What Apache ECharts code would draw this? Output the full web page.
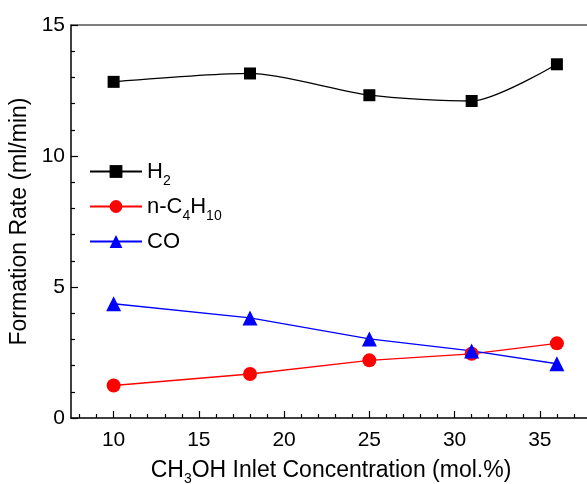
<!DOCTYPE html>
<html>
<head>
<meta charset="utf-8">
<script src="https://cdn.jsdelivr.net/npm/echarts@6/dist/echarts.min.js"></script>
<style>
  html, body { margin: 0; padding: 0; background: #fff; }
  #echarts { width: 587px; height: 484px; }
</style>
</head>
<body>
<div id="echarts"></div>
<script>
// data
var conc = [10, 18, 25, 31, 36];
var h2 = [12.83, 13.15, 12.32, 12.1, 13.5];
var butane = [1.24, 1.68, 2.2, 2.45, 2.85];
var co = [4.36, 3.82, 3.02, 2.56, 2.07];
var xLabels = [10, 15, 20, 25, 30, 35];
var xMinor = [8, 9, 11, 12, 13, 14, 16, 17, 18, 19, 21, 22, 23, 24, 26, 27, 28, 29, 31, 32, 33, 34, 36, 37];

function pairs(ys) {
  return conc.map(function (x, i) { return [x, ys[i]]; });
}

var font = 'Liberation Sans, Arial, sans-serif';
var legendRich = {
  t: { fontSize: 22, fontFamily: font, color: '#000', lineHeight: 33 },
  s: { fontSize: 14, fontFamily: font, color: '#000', lineHeight: 14, padding: [19, 0, 0, 0] }
};
var nameRich = {
  t: { fontSize: 23, fontFamily: font, color: '#000', lineHeight: 30 },
  s: { fontSize: 14, fontFamily: font, color: '#000', lineHeight: 14, padding: [16, 0, 0, 0] }
};

var myChart = echarts.init(document.getElementById('echarts'));

option = {
  backgroundColor: '#fff',
  animation: false,
  grid: { left: 71, top: 25, bottom: 66, right: -4, outerBoundsMode: 'none', containLabel: false },
  legend: {
    orient: 'vertical',
    left: 89,
    top: 155,
    padding: 0,
    itemWidth: 52,
    itemHeight: 16,
    itemGap: 2,
    data: ['H2', 'n-C4H10', 'CO'],
    formatter: function (n) {
      if (n === 'H2') return '{t|H}{s|2}';
      if (n === 'n-C4H10') return '{t|n-C}{s|4}{t|H}{s|10}';
      return '{t|CO}{s| }';
    },
    textStyle: { rich: legendRich }
  },
  xAxis: [
    {
      type: 'value',
      min: 7.5,
      max: 38,
      name: '{t|CH}{s|3}{t|OH Inlet Concentration (mol.%)}',
      nameLocation: 'middle',
      nameGap: 38,
      nameTextStyle: { rich: nameRich },
      axisLine: { lineStyle: { color: '#000', width: 1.5 } },
      axisTick: { inside: true, length: 7, customValues: xLabels, lineStyle: { color: '#000', width: 1.2 } },
      axisLabel: { customValues: xLabels, margin: 12, fontSize: 21, fontFamily: font, color: '#000' },
      splitLine: { show: false }
    },
    {
      type: 'value',
      min: 7.5,
      max: 38,
      position: 'bottom',
      axisLine: { show: false },
      axisTick: { inside: true, length: 4, customValues: xMinor, lineStyle: { color: '#000', width: 1.2 } },
      axisLabel: { show: false },
      splitLine: { show: false }
    },
    {
      type: 'value',
      min: 7.5,
      max: 38,
      position: 'top',
      axisLine: { lineStyle: { color: '#555', width: 1.5 } },
      axisTick: { show: false },
      axisLabel: { show: false },
      splitLine: { show: false }
    }
  ],
  yAxis: {
    type: 'value',
    min: 0,
    max: 15,
    interval: 5,
    name: 'Formation Rate (ml/min)',
    nameLocation: 'middle',
    nameGap: 38,
    nameTextStyle: { fontSize: 23, fontFamily: font, color: '#000' },
    axisLine: { show: true, lineStyle: { color: '#000', width: 1.5 } },
    axisTick: { inside: true, length: 7, lineStyle: { color: '#000', width: 1.2 } },
    minorTick: { show: true, splitNumber: 5, length: 4, lineStyle: { color: '#000', width: 1.2 } },
    axisLabel: { margin: 6, fontSize: 21, fontFamily: font, color: '#000' },
    splitLine: { show: false }
  },
  series: [
    {
      name: 'H2',
      type: 'line',
      smooth: 0.25,
      data: pairs(h2),
      symbol: 'rect',
      symbolSize: 12,
      itemStyle: { color: '#000' },
      lineStyle: { color: '#000', width: 1.3 }
    },
    {
      name: 'n-C4H10',
      type: 'line',
      data: pairs(butane),
      symbol: 'circle',
      symbolSize: 14,
      itemStyle: { color: '#ff0000' },
      lineStyle: { color: '#ff0000', width: 1.3 }
    },
    {
      name: 'CO',
      type: 'line',
      data: pairs(co),
      symbol: 'triangle',
      symbolSize: 15,
      itemStyle: { color: '#0000ff' },
      lineStyle: { color: '#0000ff', width: 1.3 }
    }
  ]
};

myChart.setOption(option);
</script>
</body>
</html>
